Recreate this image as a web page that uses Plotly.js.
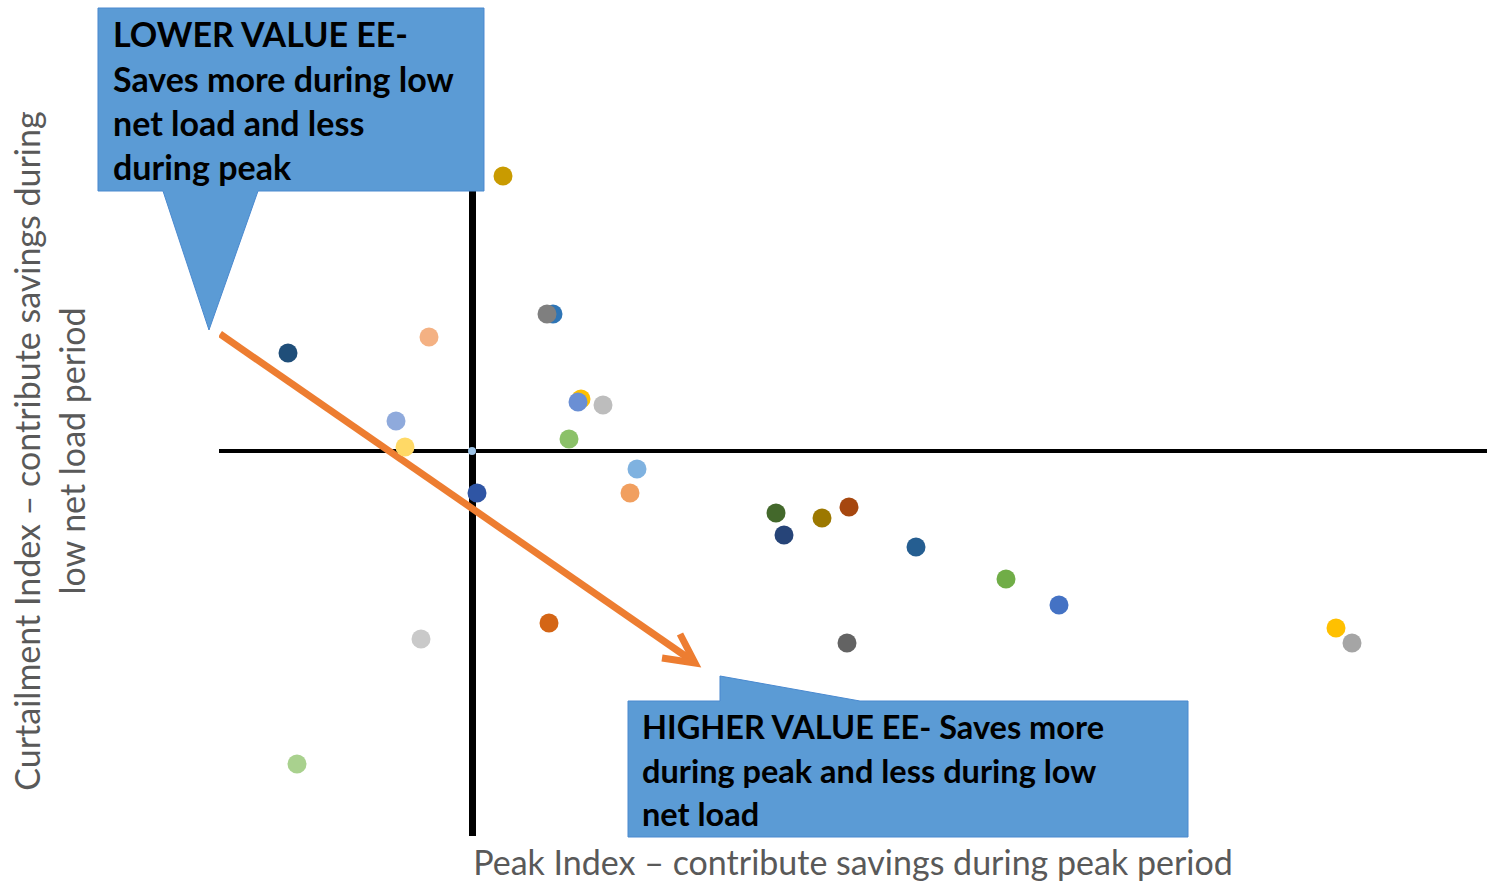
<!DOCTYPE html>
<html>
<head>
<meta charset="utf-8">
<script src="https://cdn.plot.ly/plotly-3.0.1.min.js"></script>
<style>
  html, body { margin: 0; padding: 0; background: #fff; }
  #chart { width: 1487px; height: 882px; }
</style>
</head>
<body>
<div id="chart"></div>
<script>
// Peak index (x) vs curtailment index (y) for each efficiency measure
const peakIndex = [0.31, 0.81, 0.75, -0.43, -1.84, 1.09, 1.06, 1.31, -0.76, -0.67, 0.97, 0.00, 1.65, 1.58, 0.05,
                   3.04, 3.12, 3.50, 3.77, 4.44, 5.34, 5.87, 3.75, 8.64, 8.80, -0.51, -1.75, 0.77];
const curtailmentIndex = [2.75, 1.37, 1.37, 1.14, 0.98, 0.52, 0.49, 0.46, 0.30, 0.04, 0.12, 0.00, -0.18, -0.42, -0.42,
                   -0.62, -0.84, -0.67, -0.56, -0.96, -1.28, -1.54, -1.92, -1.77, -1.92, -1.88, -3.13, -1.72];
const pointColors = ['#C99B00', '#2E75B6', '#7F7F7F', '#F4B183', '#1F4E79', '#FFC000', '#6A8FD4', '#BDBDBD',
                   '#8FAADC', '#FFD966', '#8BC168', '#9DC3E6', '#7FB2E0', '#F19F5F', '#2F55A4',
                   '#43682B', '#264478', '#9C7800', '#A6470F', '#255E91', '#70AD47', '#4472C4', '#636363',
                   '#FFC000', '#A5A5A5', '#C9C9C9', '#A9D18E', '#D46515'];

const W = 1487, H = 882;
const M = { l: 219, r: 0, t: 66, b: 46 };
const plotW = W - M.l - M.r, plotH = H - M.t - M.b;
// pixel -> paper helpers for the callout decorations
const PX = x => (x - M.l) / plotW;
const PY = y => (H - M.b - y) / plotH;
const pathP = pts => 'M ' + pts.map(p => PX(p[0]).toFixed(5) + ',' + PY(p[1]).toFixed(5)).join(' L ') + ' Z';

const sizes = peakIndex.map((x, i) => (x === 0 && curtailmentIndex[i] === 0) ? 8 : 19);

const trace = {
  type: 'scatter',
  mode: 'markers',
  x: peakIndex,
  y: curtailmentIndex,
  marker: { color: pointColors, size: sizes, opacity: 1, line: { width: 0 } },
  hoverinfo: 'x+y',
  showlegend: false
};

const calloutFill = '#5B9BD5';
const calloutEdge = '#4A89CF';
const fontFamily = 'Lato, "Open Sans", sans-serif';

function label(text, x, y, size) {
  return { text: '<b>' + text + '</b>', xref: 'paper', yref: 'paper', x: PX(x), y: PY(y),
           xanchor: 'left', yanchor: 'middle', showarrow: false, align: 'left',
           font: { family: fontFamily, size: size, color: '#000000' } };
}

const layout = {
  width: W, height: H,
  margin: M,
  paper_bgcolor: '#ffffff',
  plot_bgcolor: '#ffffff',
  showlegend: false,
  xaxis: {
    range: [-2.53, 10.15],
    showgrid: false, showticklabels: false, ticks: '', showline: false,
    zeroline: true, zerolinecolor: '#000000', zerolinewidth: 7,
    fixedrange: true,
    title: { text: 'Peak Index – contribute savings during peak period', standoff: 16,
             font: { family: fontFamily, size: 34, color: '#595959' } }
  },
  yaxis: {
    range: [-3.85, 3.85],
    showgrid: false, showticklabels: false, ticks: '', showline: false,
    zeroline: true, zerolinecolor: '#000000', zerolinewidth: 4,
    fixedrange: true,
    title: { text: 'Curtailment Index – contribute savings during<br>low net load period', standoff: 122,
             font: { family: fontFamily, size: 34, color: '#595959' } }
  },
  shapes: [
    // trend arrow
    { type: 'line', xref: 'x', yref: 'y', x0: -2.52, y0: 1.17, x1: 2.22, y1: -2.11, layer: 'between',
      line: { color: '#ED7D31', width: 7 } },
    { type: 'path', xref: 'x', yref: 'y', path: 'M 2.08,-1.83 L 2.23,-2.12 L 1.90,-2.07', layer: 'between',
      line: { color: '#ED7D31', width: 7 } },
    // upper-left callout
    { type: 'path', xref: 'paper', yref: 'paper', layer: 'above',
      path: pathP([[98, 8], [484, 8], [484, 191], [258, 191], [209, 330], [163, 191], [98, 191]]),
      fillcolor: calloutFill, line: { color: calloutEdge, width: 1 } },
    // lower-right callout
    { type: 'path', xref: 'paper', yref: 'paper', layer: 'above',
      path: pathP([[628, 701], [720, 701], [720, 676], [860, 701], [1188, 701], [1188, 837], [628, 837]]),
      fillcolor: calloutFill, line: { color: calloutEdge, width: 1 } }
  ],
  annotations: [
    label('LOWER VALUE EE-', 111, 34, 34),
    label('Saves more during low', 111, 78, 34),
    label('net load and less', 111, 122, 34),
    label('during peak', 111, 166, 34),
    label('HIGHER VALUE EE- Saves more', 640, 726, 32.5),
    label('during peak and less during low', 640, 770, 32.5),
    label('net load', 640, 813, 32.5)
  ]
};

Plotly.newPlot('chart', [trace], layout, { displayModeBar: false, staticPlot: true });
</script>
</body>
</html>
